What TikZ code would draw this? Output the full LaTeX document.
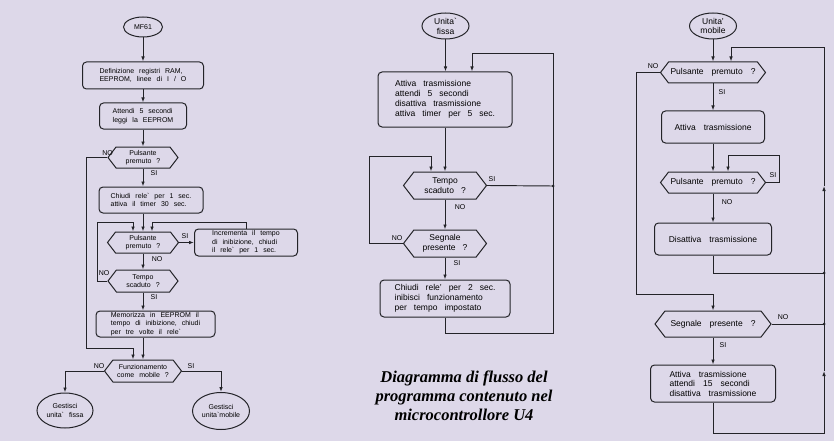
\documentclass[tikz,border=0pt]{standalone}
\usepackage{fontspec}
\setmainfont{Liberation Sans}
\newfontfamily\capfont{Liberation Serif}
\usepackage{xcolor}
\usetikzlibrary{shapes.geometric, shapes.symbols, arrows.meta}
\definecolor{bgcol}{RGB}{221,216,233}
\definecolor{ink}{RGB}{35,35,40}
\newcommand{\acg}{\textasciigrave}
\newcommand{\flowA}{\fontsize{7}{8.5}\selectfont\spaceskip=5pt plus 1pt\relax}
\newcommand{\flowB}{\fontsize{8.5}{10}\selectfont\spaceskip=7pt plus 1pt\relax}
\newcommand{\flowC}{\fontsize{8.5}{9.5}\selectfont\spaceskip=8pt plus 1pt\relax}

\begin{document}
\begin{tikzpicture}[x=1pt, y=-1pt, >={Latex[length=5pt, width=3.6pt]},
    proc/.style={draw=ink, line width=1pt, rounded corners=4pt, align=left, inner sep=1pt},
    dec/.style={draw=ink, line width=1pt, shape=signal, signal to=west and east, signal pointer angle=105, align=center, inner sep=1pt},
    term/.style={draw=ink, line width=1pt, ellipse, align=center, inner sep=0pt},
    lbl/.style={font=\fontsize{7}{8}\selectfont, inner sep=0pt},
    conn/.style={draw=ink, line width=0.95pt}]
        \fill [bgcol] (0, 0) rectangle (834, 441);
        \useasboundingbox (0, 0) rectangle (834, 441);
        % MF61
        \node (mfs) [term, minimum width=39, minimum height=20, font=\flowA] at (143, 27) {MF61};
        \node (def) [proc, minimum width=121, minimum height=27, font=\flowA] at (143, 75.5) {Definizione registri RAM,\\EEPROM, linee di I / O};
        \node (att) [proc, minimum width=87, minimum height=26, font=\flowA] at (143, 116) {Attendi 5 secondi\\leggi la EEPROM};
        \node (pa) [dec, minimum width=70, minimum height=21, font=\flowA] at (143, 157.5) {Pulsante\\premuto ?};
        \node (chi) [proc, minimum width=104, minimum height=26, font=\flowA] at (151, 200) {Chiudi rele\acg{} per 1 sec.\\attiva il timer 30 sec.};
        \node (pb) [dec, minimum width=71, minimum height=21, font=\flowA] at (143, 242.5) {Pulsante\\premuto ?};
        \node (inc) [proc, minimum width=103, minimum height=27, font=\flowA] at (246, 242.5) {Incrementa il tempo\\di inibizione, chiudi\\il rele\acg{} per 1 sec.};
        \node (tsa) [dec, minimum width=70, minimum height=22, font=\flowA] at (143, 281) {Tempo\\scaduto ?};
        \node (mem) [proc, minimum width=119, minimum height=26, font=\flowA] at (155.5, 324) {Memorizza in EEPROM il\\tempo di inibizione, chiudi\\per tre volte il rele\acg};
        \node (fz) [dec, minimum width=77, minimum height=22, font=\flowA] at (143, 371) {Funzionamento\\come mobile ?};
        \node (gf) [term, minimum width=56, minimum height=35, font=\flowA] at (65, 410.5) {Gestisci\\unita\acg{} fissa};
        \node (gm) [term, minimum width=57, minimum height=37, font=\flowA] at (221, 411) {Gestisci\\unita\acg mobile};
        \coordinate (ra) at (86, 348);
        \coordinate (rb) at (133, 348);
        \coordinate (ia) at (152, 222);
        \coordinate (ta) at (97, 222);
        \coordinate (tb) at (133, 222);
        \draw [conn, ->] (mfs.south) -- (mfs.south |- def.north);
        \draw [conn, ->] (def.south) -- (att.north);
        \draw [conn, ->] (att.south) -- (pa.north);
        \draw [conn, ->] (pa.south) -- (pa.south |- chi.north);
        \draw [conn, ->] (pa.west) -| (ra) -- (rb) -- (rb |- fz.north);
        \draw [conn, ->] (pb.north |- chi.south) -- (pb.north);
        \draw [conn, ->] (pb.east) -- (inc.west);
        \draw [conn, ->] (inc.north) |- (ia) -- (ia |- pb.north);
        \draw [conn, ->] (pb.south) -- (tsa.north);
        \draw [conn, ->] (tsa.west) -| (ta) -- (tb) -- (tb |- pb.north);
        \draw [conn, ->] (tsa.south) -- (tsa.south |- mem.north);
        \draw [conn, ->] (fz.north |- mem.south) -- (fz.north);
        \draw [conn, ->] (fz.west) -| (gf.north);
        \draw [conn, ->] (fz.east) -| (gm.north);
        \node [lbl] (la1) at (107.5, 153.5) {NO};
        \node [lbl] (la2) at (154, 173) {SI};
        \node [lbl] (la3) at (185, 236) {SI};
        \node [lbl] (la4) at (157, 259) {NO};
        \node [lbl] (la5) at (104, 273) {NO};
        \node [lbl] (la6) at (154, 297) {SI};
        \node [lbl] (la7) at (99, 366) {NO};
        \node [lbl] (la8) at (191, 366) {SI};
        % Unita fissa
        \node (uf) [term, minimum width=47, minimum height=26, font=\flowB] at (445.5, 26) {Unita\acg\\fissa};
        \node (ba) [proc, minimum width=134, minimum height=55, font=\flowB] at (445, 99.5) {Attiva trasmissione\\attendi 5 secondi\\disattiva trasmissione\\attiva timer per 5 sec.};
        \node (tsb) [dec, minimum width=83, minimum height=27, font=\flowB] at (445, 185.5) {Tempo\\scaduto ?};
        \node (spb) [dec, minimum width=83, minimum height=27, font=\flowB] at (445, 243.5) {Segnale\\presente ?};
        \node (bb) [proc, minimum width=130, minimum height=37, font=\flowB] at (445, 298.5) {Chiudi rele' per 2 sec.\\inibisci funzionamento\\per tempo impostato};
        \coordinate (fa) at (553, 333);
        \coordinate (fb) at (553, 53);
        \coordinate (fc) at (472, 53);
        \coordinate (fd) at (553, 186);
        \coordinate (fe) at (369, 156);
        \coordinate (ff) at (431, 156);
        \draw [conn, ->] (uf.south) -- (uf.south |- ba.north);
        \draw [conn, ->] (bb.south) |- (fa) -- (fb) -- (fc) -- (fc |- ba.north);
        \draw [conn, ->] (ba.south) -- (tsb.north);
        \draw [conn] (tsb.east) -- (fd);
        \fill [ink] (fd) circle (1.5pt);
        \draw [conn, ->] (tsb.south) -- (spb.north);
        \draw [conn, ->] (spb.west) -| (fe) -- (ff) -- (ff |- tsb.north);
        \draw [conn, ->] (spb.south) -- (bb.north);
        \node [lbl] (lb1) at (492, 179) {SI};
        \node [lbl] (lb2) at (460, 207) {NO};
        \node [lbl] (lb3) at (397, 238) {NO};
        \node [lbl] (lb4) at (457, 263) {SI};
        \node (cap) [align=center, font=\capfont\bfseries\itshape\fontsize{16.5}{19}\selectfont] at (464, 396) {Diagramma di flusso del\\programma contenuto nel\\microcontrollore U4};
        % Unita mobile
        \node (um) [term, minimum width=47, minimum height=26, font=\flowC] at (713, 26) {Unita'\\mobile};
        \node (pp1) [dec, minimum width=105, minimum height=21, font=\flowC] at (713, 72.5) {Pulsante premuto ?};
        \node (at1) [proc, minimum width=103, minimum height=32, font=\flowC] at (713, 127) {Attiva trasmissione};
        \node (pp2) [dec, minimum width=105, minimum height=21, font=\flowC] at (713, 182.5) {Pulsante premuto ?};
        \node (dis) [proc, minimum width=117, minimum height=32, font=\flowC] at (713, 239) {Disattiva trasmissione};
        \node (sp3) [dec, minimum width=116, minimum height=26, font=\flowC] at (713, 324) {Segnale presente ?};
        \node (at2) [proc, minimum width=125, minimum height=37, font=\flowC] at (713, 383.5) {Attiva trasmissione\\attendi 15 secondi\\disattiva trasmissione};
        \coordinate (ma) at (636, 294);
        \coordinate (mb) at (779, 155);
        \coordinate (mc) at (728, 155);
        \coordinate (md) at (824, 273);
        \coordinate (me) at (824, 324);
        \coordinate (rl0) at (824, 433);
        \coordinate (rl1) at (824, 371);
        \coordinate (rl2) at (824, 186);
        \coordinate (rl3) at (824, 47);
        \coordinate (rl4) at (731, 47);
        \draw [conn, ->] (um.south) -- (pp1.north);
        \draw [conn, ->] (pp1.west) -| (ma) -- (ma -| sp3.north) -- (sp3.north);
        \draw [conn, ->] (pp1.south) -- (at1.north);
        \draw [conn, ->] (at1.south) -- (pp2.north);
        \draw [conn, ->] (pp2.east) -| (mb) -- (mc) -- (mc |- pp2.north);
        \draw [conn, ->] (pp2.south) -- (dis.north);
        \draw [conn] (dis.south) |- (md);
        \draw [conn] (sp3.east) -- (me);
        \fill [ink] (md) circle (1.5pt);
        \fill [ink] (me) circle (1.5pt);
        \draw [conn, ->] (sp3.south) -- (at2.north);
        \draw [conn, ->] (at2.south) |- (rl0) -- (rl1);
        \draw [conn, ->] (rl1) -- (rl2);
        \draw [conn, ->] (rl2) -- (rl3) -- (rl4) -- (rl4 |- pp1.north);
        \node [lbl] (lc1) at (653, 66) {NO};
        \node [lbl] (lc2) at (722, 92) {SI};
        \node [lbl] (lc3) at (773, 175) {SI};
        \node [lbl] (lc4) at (727, 202) {NO};
        \node [lbl] (lc5) at (783, 317) {NO};
        \node [lbl] (lc6) at (723, 345) {SI};
    \end{tikzpicture}
\end{document}
